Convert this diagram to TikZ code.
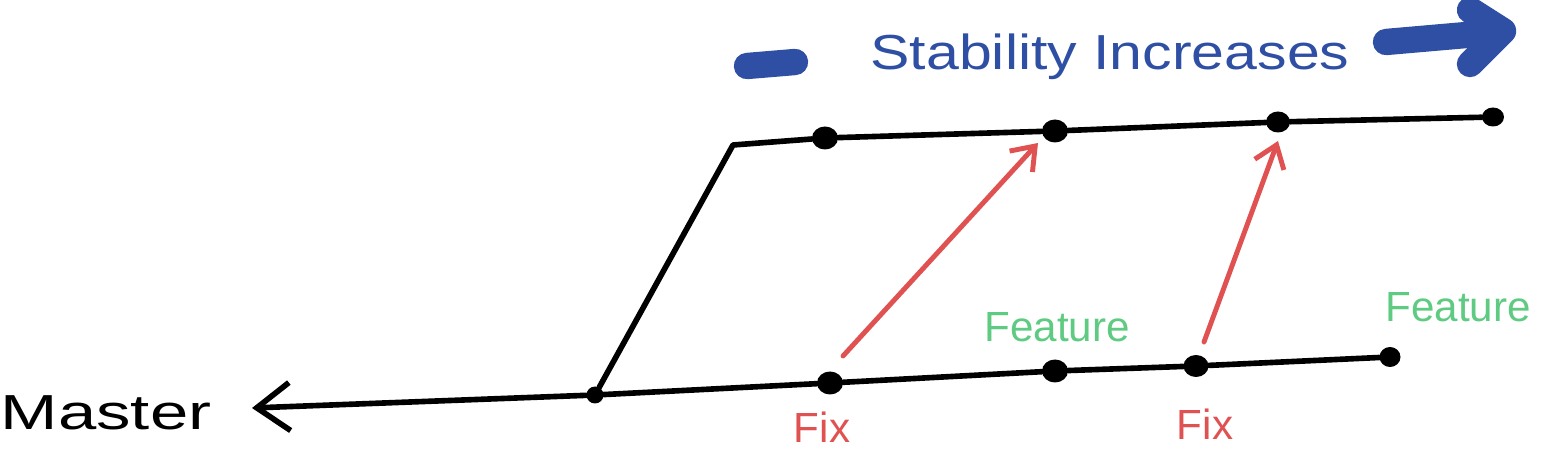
\documentclass[tikz,border=0pt]{standalone}
\usepackage{fontspec}
\setmainfont{Liberation Sans}
\usetikzlibrary{arrows.meta,shapes.geometric}
\definecolor{stabblue}{HTML}{2E4FA3}
\definecolor{fixred}{HTML}{E05252}
\definecolor{featgreen}{HTML}{5FCB82}
\tikzset{
  branch/.style={line width=3.2pt, line cap=round, line join=round, black},
  commit/.style={ellipse, fill=black, inner sep=0pt, minimum width=0.52cm, minimum height=0.46cm},
  smallcommit/.style={circle, fill=black, inner sep=0pt, minimum size=0.34cm},
  fixarrow/.style={line width=2.8pt, line cap=round, fixred, -{Straight Barb[length=0.42cm,width=0.62cm,line width=2.8pt]}},
  bluebar/.style={line width=15pt, line cap=round, stabblue},
  fixlabel/.style={text=fixred, font=\fontsize{24}{28}\selectfont},
  featlabel/.style={text=featgreen, font=\fontsize{24}{28}\selectfont},
}
\begin{document}
\begin{tikzpicture}[x=0.02cm, y=-0.02cm]
\useasboundingbox (0,0) rectangle (1543,452);

% master branch
\node[smallcommit] (m0) at (595,395) {};
\coordinate (mend) at (252,408);
\node[font=\fontsize{28}{32}\selectfont, xscale=1.4, anchor=center] (master) at (106,413) {Master};
\draw[branch, -{Straight Barb[length=0.66cm,width=0.96cm,line width=3.2pt]}] (m0) -- (mend);

% bottom branch
\node[commit] (b1) at (830,383) {};
\node[commit] (b2) at (1055,371) {};
\node[commit, minimum width=0.5cm, minimum height=0.44cm] (b3) at (1196,366) {};
\node[commit, minimum width=0.42cm, minimum height=0.4cm] (b4) at (1390,357) {};
\draw[branch] (m0) -- (b1) -- (b2) -- (b3) -- (b4);

% top branch
\coordinate (tc) at (733,145);
\node[commit] (t1) at (825,138) {};
\node[commit] (t2) at (1055,131) {};
\node[commit, minimum width=0.48cm, minimum height=0.42cm] (t3) at (1278,122) {};
\node[commit, minimum width=0.44cm, minimum height=0.38cm] (t4) at (1493,117) {};
\draw[branch] (m0) -- (tc) -- (t1) -- (t2) -- (t3) -- (t4);

% fix arrows
\coordinate (f1s) at (843,356);
\coordinate (f1e) at (1038,143);
\coordinate (f2s) at (1204,342);
\coordinate (f2e) at (1278,141);
\draw[fixarrow] (f1s) -- (f1e);
\draw[fixarrow] (f2s) -- (f2e);

% labels
\node[fixlabel] (fix1) at (822,427) {Fix};
\node[fixlabel] (fix2) at (1205,424) {Fix};
\node[featlabel] (feat1) at (1057,327) {Feature};
\node[featlabel] (feat2) at (1458,307) {Feature};

% stability
\coordinate (s1) at (747,66);
\coordinate (s2) at (795,62);
\draw[bluebar] (s1) -- (s2);
\node[text=stabblue, font=\fontsize{28}{32}\selectfont, xscale=1.2] (stab) at (1110,57) {Stability Increases};
\coordinate (a1) at (1386,42);
\coordinate (a2) at (1478,34);
\draw[bluebar] (a1) -- (a2);
\coordinate (h1) at (1470,10);
\coordinate (h2) at (1503,31);
\coordinate (h3) at (1470,64);
\draw[bluebar, line join=round] (h1) -- (h2) -- (h3);
\end{tikzpicture}
\end{document}
